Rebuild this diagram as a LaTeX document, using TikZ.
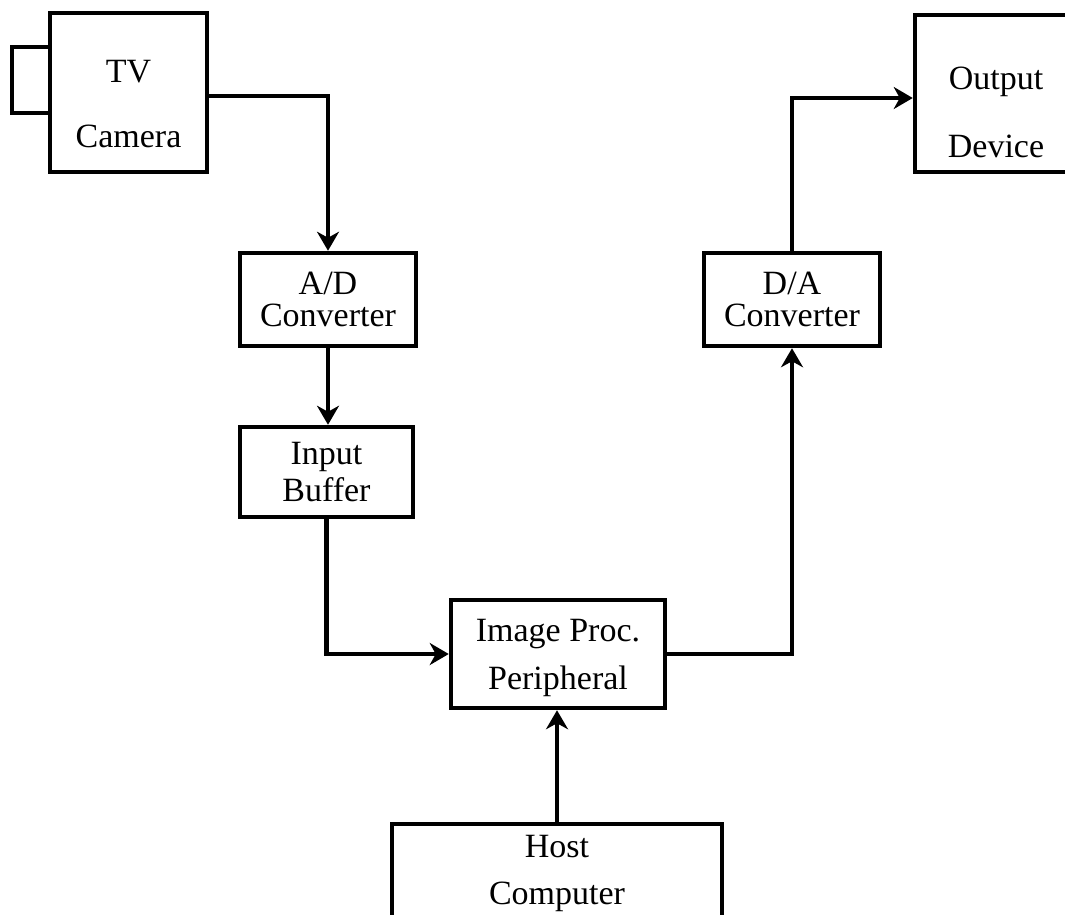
\documentclass[tikz,border=0pt]{standalone}
\usepackage{fontspec}
\setmainfont{Liberation Serif}
\usetikzlibrary{arrows.meta}
\begin{document}
\begin{tikzpicture}[x=1pt,y=-1pt,
  blk/.style={draw, line width=4.5pt, rectangle, inner sep=0pt, align=center},
  conn/.style={line width=4.5pt, -{Stealth[length=19pt,width=22pt,inset=6pt]}}]
\useasboundingbox (0,0) rectangle (1065,914);
\clip (0,0) rectangle (1065,914);
% boxes
\node[blk, minimum width=157pt, minimum height=159pt, font=\fontsize{34}{65}\selectfont] (cam) at (128.5,92.5) {\rule{0pt}{46pt}TV\\Camera};
\node[blk, minimum width=38pt, minimum height=66pt] (lens) at (31,80) {};
\node[blk, minimum width=162pt, minimum height=157pt, font=\fontsize{34}{68}\selectfont] (out) at (996,93.5) {\rule{0pt}{61pt}Output\\Device};
\node[blk, minimum width=176pt, minimum height=93pt, font=\fontsize{34}{32}\selectfont] (ad) at (328,299.5) {A/D\\Converter};
\node[blk, minimum width=173pt, minimum height=90pt, font=\fontsize{34}{37}\selectfont] (ib) at (326.5,472) {Input\\Buffer};
\node[blk, minimum width=214pt, minimum height=108pt, font=\fontsize{34}{48}\selectfont] (ip) at (558,654) {\rule{0pt}{31pt}Image Proc.\\Peripheral};
\node[blk, minimum width=330pt, minimum height=98pt, font=\fontsize{34}{47}\selectfont] (host) at (557,873) {Host\\Computer};
\node[blk, minimum width=176pt, minimum height=93pt, font=\fontsize{34}{32}\selectfont] (da) at (792,299.5) {D/A\\Converter};
% connectors
\draw[conn] ([yshift=-3.5pt]cam.east) -| (ad.north);
\draw[conn] (ad.south) -- (ad.south |- ib.north);
\draw[conn] (ib.south) |- (ip.west);
\draw[conn] (ip.east) -| (da.south);
\draw[conn] (da.north) |- ([yshift=-4.5pt]out.west);
\draw[conn] (host.north) -- (host.north |- ip.south);
\end{tikzpicture}
\end{document}
